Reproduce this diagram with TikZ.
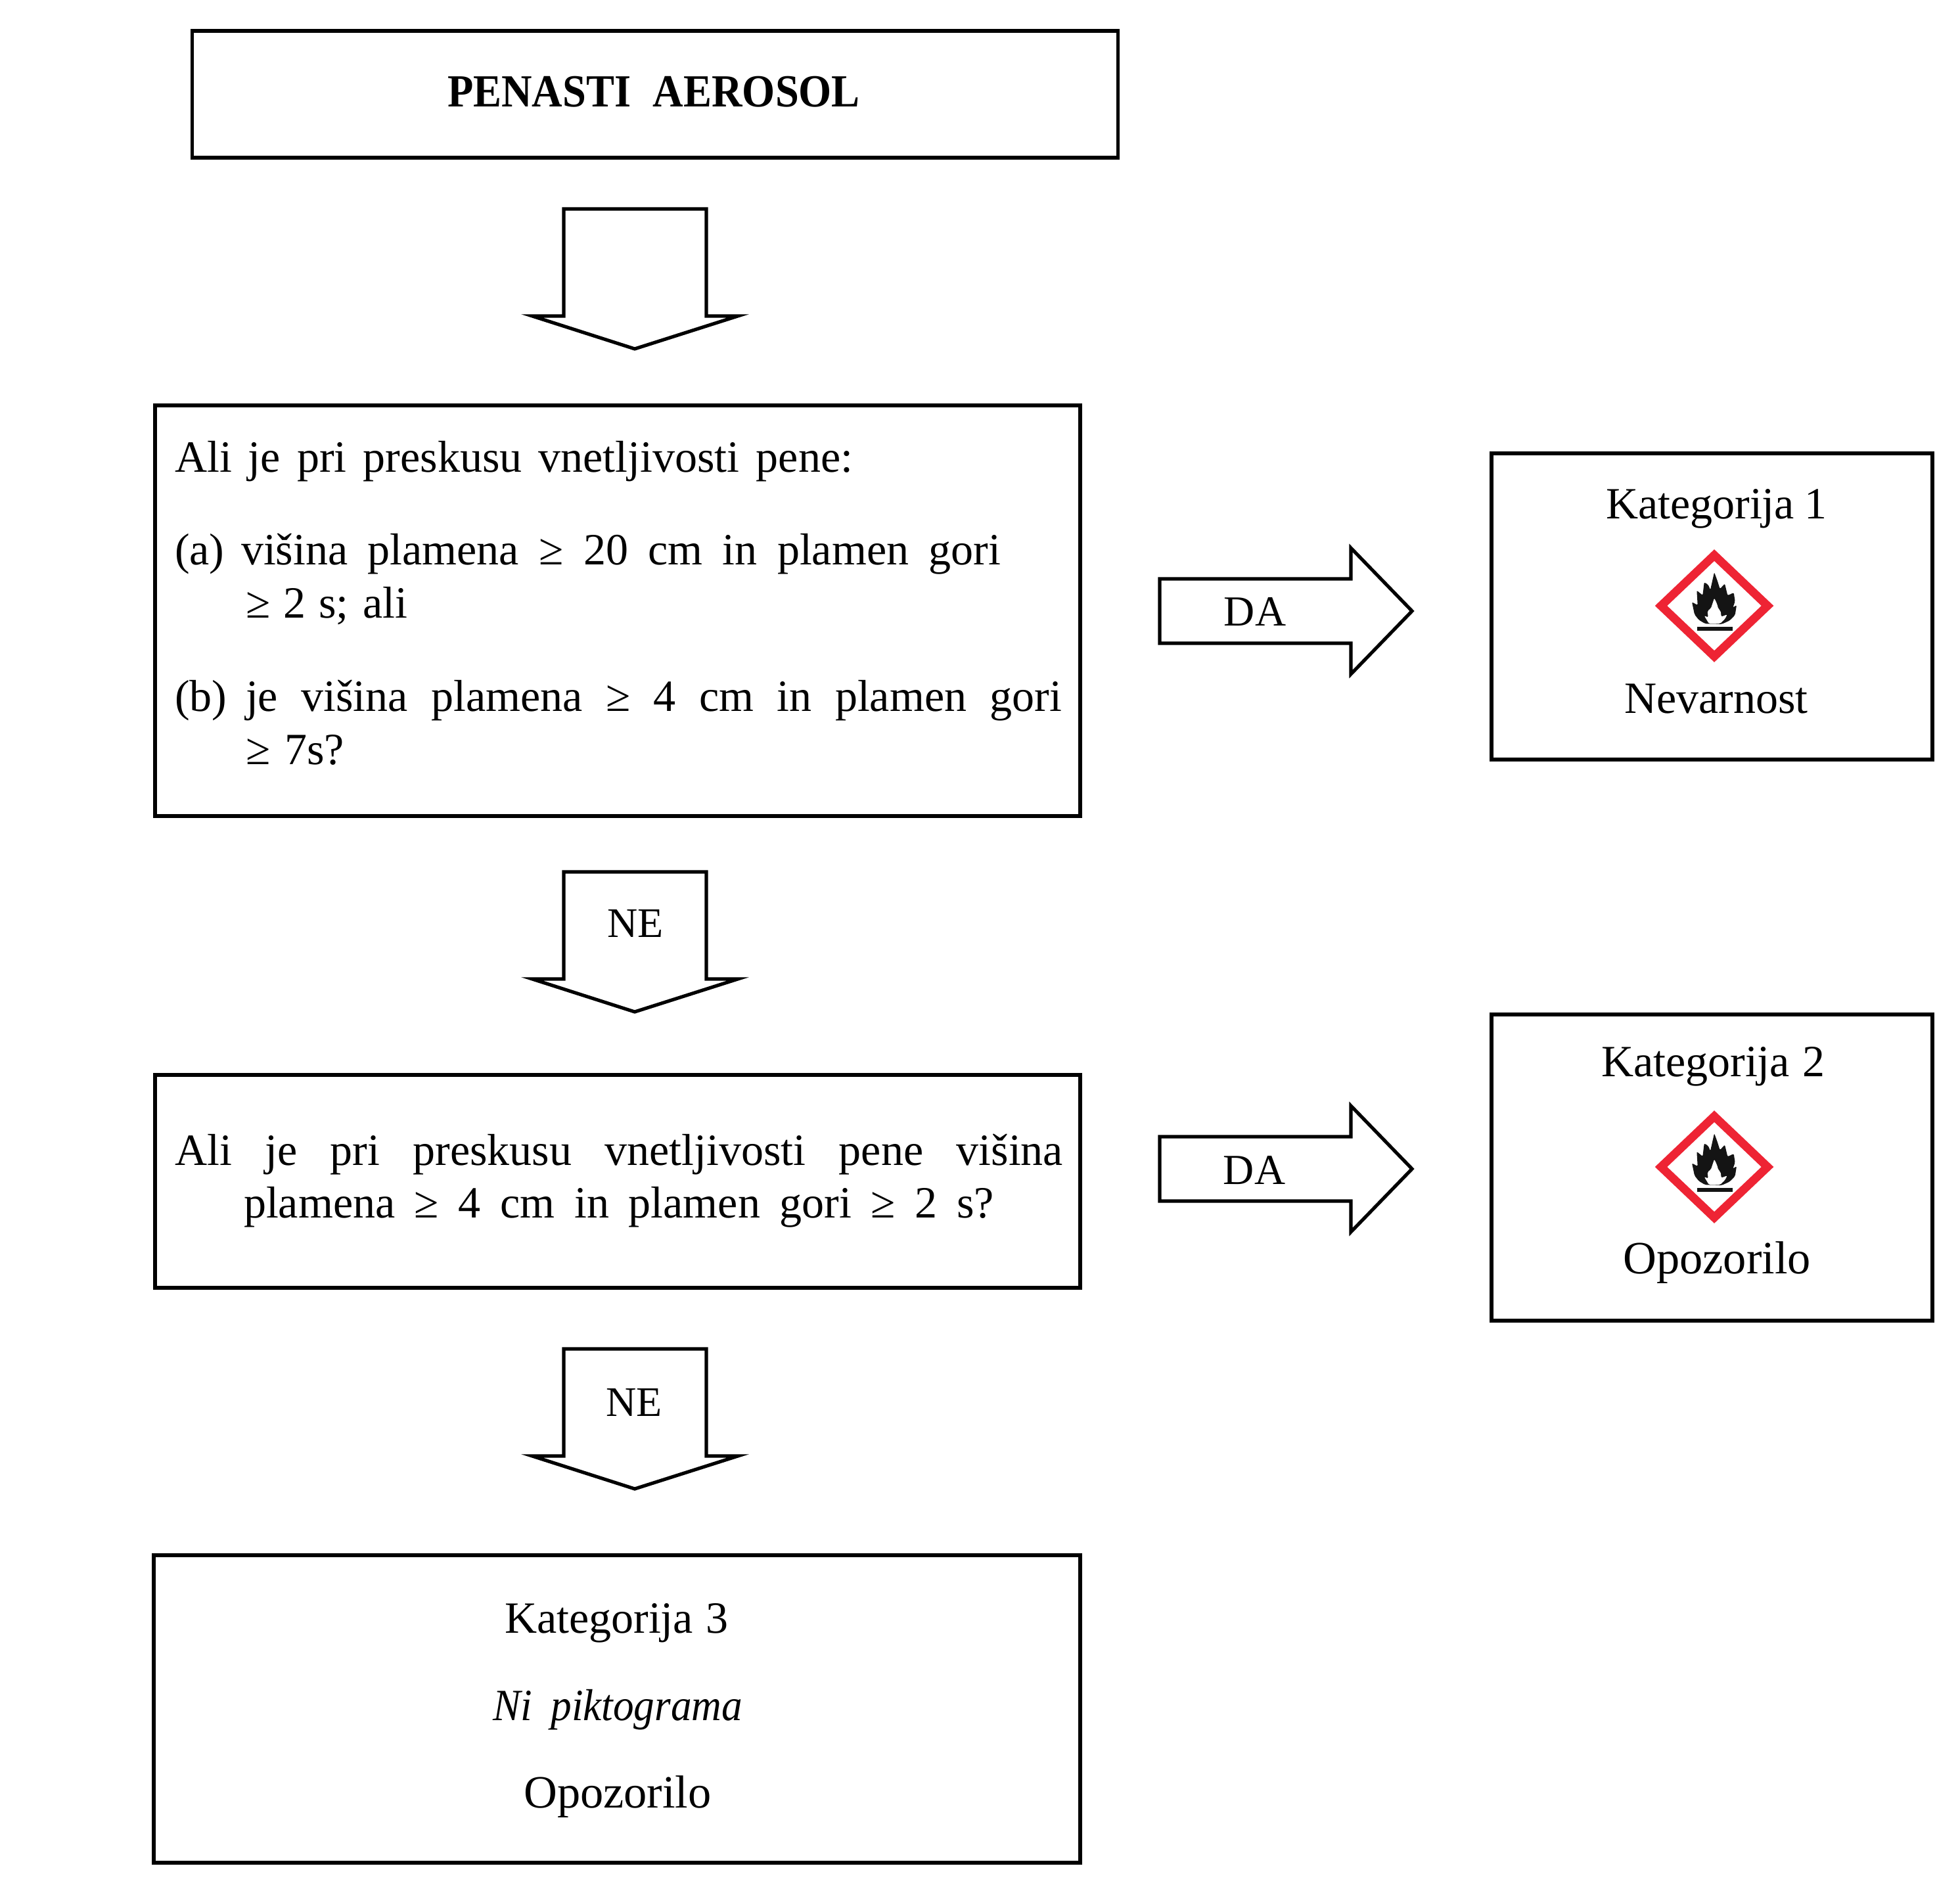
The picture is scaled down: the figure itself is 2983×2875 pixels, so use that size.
\documentclass[tikz,border=0pt]{standalone}
\usepackage{fontspec}
\setmainfont{Liberation Serif}
\newcommand{\fitw}[2]{\makebox[\dimexpr #1pt/4\relax][s]{#2}}
\definecolor{ghsred}{RGB}{238,36,52}
\tikzset{
  boxnode/.style={draw=black,line width=1.3pt,fill=white,inner sep=0pt,outer sep=0pt},
  txt/.style={inner sep=0pt,outer sep=0pt,font=\fontsize{17}{20}\selectfont},
  lineleft/.style={txt,anchor=base west},
  linemid/.style={txt,anchor=base},
  blockline/.style={draw=black,line width=1.3pt,fill=white,line join=miter},
  downblock/.pic={
    \path[blockline] (-108,0) -- (109,0) -- (109,163) -- (157,163) -- (0,213) -- (-156,163) -- (-108,163) -- cycle;
  },
  rightblock/.pic={
    \path[blockline] (0,-49) -- (291,-49) -- (291,-96) -- (384,0) -- (291,96) -- (291,49) -- (0,49) -- cycle;
  },
  ghspic/.pic={
    \draw[ghsred,line width=3.2pt,line join=miter] (-81,0) -- (0,-77) -- (81,0) -- (0,77) -- cycle;
    \begin{scope}[shift={(-128.67,-121.67)},scale=0.3333]
      \fill[black!92,rounded corners=0.5pt] (345,447) -- (316,430) -- (296,405) -- (284,348) -- (310,362) -- (306,295) -- (333,317) -- (340,258) -- (358,268) -- (368,292) -- (386,212) -- (400,250) -- (412,288) -- (434,264) -- (447,318) -- (475,305) -- (481,345) -- (471,373) -- (488,362) -- (481,407) -- (457,432) -- (420,449) -- cycle;
      \fill[white,rounded corners=0.5pt] (386,330) -- (398,355) -- (405,380) -- (415,388) -- (418,415) -- (445,405) -- (435,425) -- (412,447) -- (362,447) -- (340,410) -- (358,418) -- (355,388) -- (370,378) -- (378,355) -- cycle;
      \fill[black!92] (308,460) rectangle (471,480);
    \end{scope}
  }
}
\begin{document}
\begin{tikzpicture}[x=0.25pt,y=-0.25pt]
\useasboundingbox (0,0) rectangle (2983,2875);
\fill[white] (0,0) rectangle (2983,2875);

% boxes
\node[boxnode,minimum width=352.25pt,minimum height=48.25pt] (title) at (997,143.5) {};
\node[boxnode,minimum width=352pt,minimum height=156.25pt] (q1) at (940,929.5) {};
\node[boxnode,minimum width=352pt,minimum height=81pt] (q2) at (940,1798) {};
\node[boxnode,minimum width=352.5pt,minimum height=117pt] (k3) at (939,2601) {};
\node[boxnode,minimum width=167.75pt,minimum height=116.5pt] (k1) at (2605.5,923) {};
\node[boxnode,minimum width=167.75pt,minimum height=116.5pt] (k2) at (2605.5,1777) {};

% block arrows
\coordinate (d1) at (966,318);
\coordinate (d2) at (966,1327);
\coordinate (d3) at (966,2053);
\coordinate (r1) at (1765,930);
\coordinate (r2) at (1765,1779);
\pic at (d1) {downblock};
\pic at (d2) {downblock};
\pic at (d3) {downblock};
\pic at (r1) {rightblock};
\pic at (r2) {rightblock};

% title
\node[linemid,font=\fontsize{17.5}{20}\bfseries\selectfont\addfontfeature{FakeStretch=0.92}] (ttitle) at (995,163) {\fitw{628}{PENASTI AEROSOL}};

% question 1
\node[lineleft] (q1l1) at (266,719) {\fitw{1032}{Ali je pri preskusu vnetljivosti pene:}};
\node[lineleft] (q1a) at (266,860) {(a)};
\node[lineleft] (q1a1) at (367,860) {\fitw{1156}{višina plamena ≥ 20 cm in plamen gori}};
\node[lineleft] (q1a2) at (374,941) {\fitw{246}{≥ 2 s; ali}};
\node[lineleft] (q1b) at (266,1083) {(b)};
\node[lineleft] (q1b1) at (374,1083) {\fitw{1242}{je višina plamena ≥ 4 cm in plamen gori}};
\node[lineleft] (q1b2) at (374,1163) {\fitw{150}{≥ 7s?}};

% question 2
\node[lineleft] (q2l1) at (266,1773) {\fitw{1352}{Ali je pri preskusu vnetljivosti pene višina}};
\node[lineleft] (q2l2) at (371,1853) {\fitw{1142}{plamena ≥ 4 cm in plamen gori ≥ 2 s?}};

% category 1
\node[linemid] (k1t) at (2612,790) {\fitw{336}{Kategorija 1}};
\pic at (2609,922) {ghspic};
\node[linemid] (k1s) at (2612,1086) {Nevarnost};

% category 2
\node[linemid] (k2t) at (2607,1638) {\fitw{340}{Kategorija 2}};
\pic at (2609,1776) {ghspic};
\node[linemid,font=\fontsize{17.6}{20}\selectfont] (k2s) at (2613,1938) {Opozorilo};

% category 3
\node[linemid] (k3t) at (938,2485) {\fitw{340}{Kategorija 3}};
\node[linemid,font=\fontsize{17}{20}\itshape\selectfont\addfontfeature{FakeStretch=0.93}] (k3p) at (940,2618) {\fitw{380}{Ni piktograma}};
\node[linemid,font=\fontsize{17.6}{20}\selectfont] (k3s) at (940,2751) {Opozorilo};

% arrow labels
\node[linemid,font=\fontsize{16.3}{20}\selectfont] (da1) at (1910,953) {DA};
\node[linemid,font=\fontsize{16.3}{20}\selectfont] (da2) at (1909,1802) {DA};
\node[linemid,font=\fontsize{16}{20}\selectfont] (ne1) at (967,1426) {NE};
\node[linemid,font=\fontsize{16}{20}\selectfont] (ne2) at (965,2155) {NE};
\end{tikzpicture}
\end{document}
